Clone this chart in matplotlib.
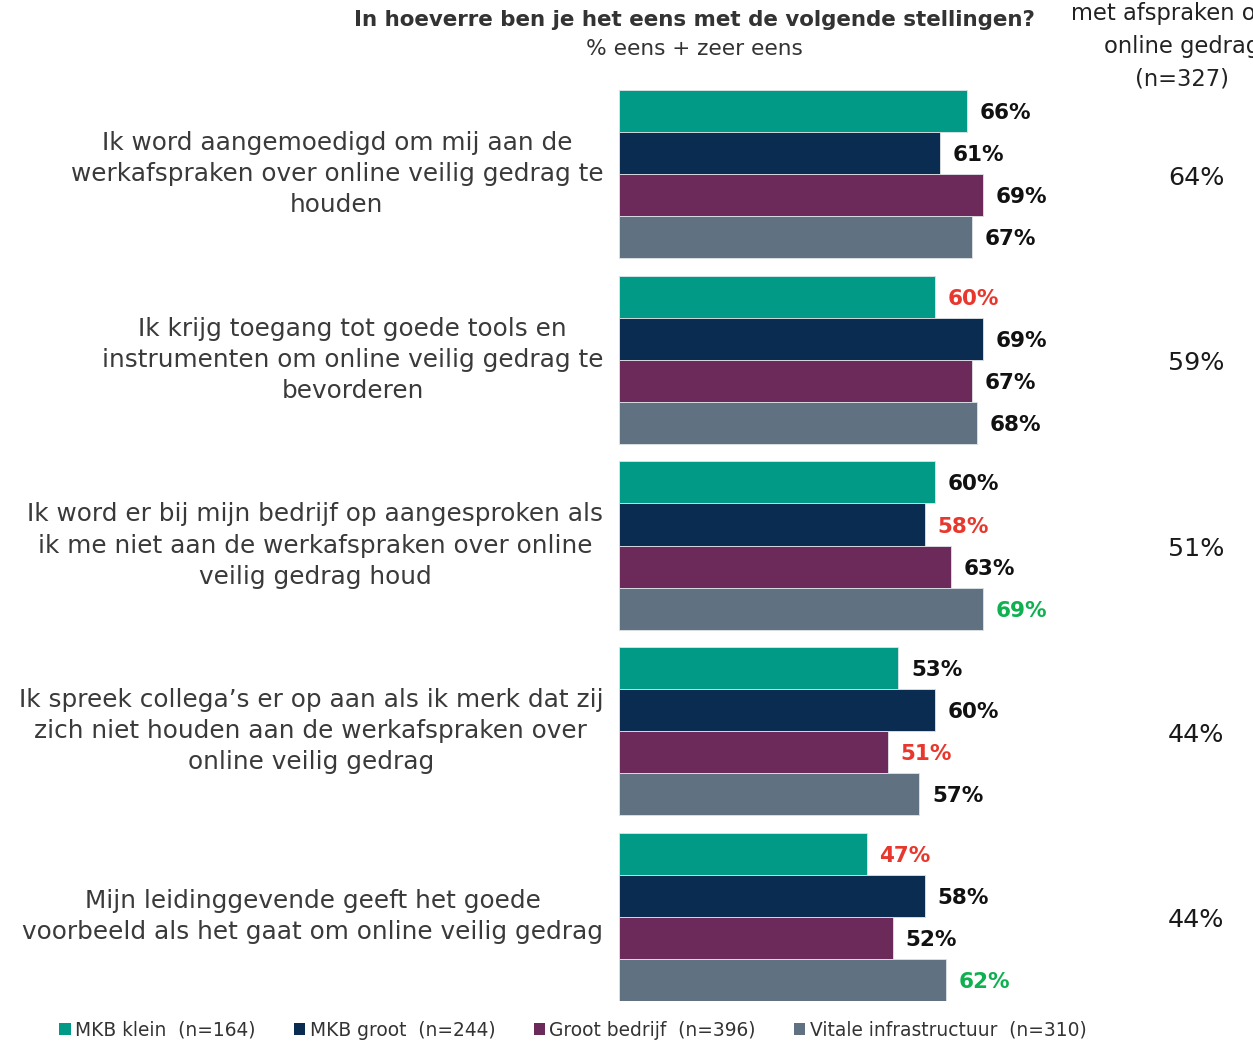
import numpy as np
import matplotlib
matplotlib.use("Agg")
import matplotlib.pyplot as plt
from matplotlib.patches import Patch

# statements (left labels)
statements = [
    "Ik word aangemoedigd om mij aan de\nwerkafspraken over online veilig gedrag te\nhouden",
    "Ik krijg toegang tot goede tools en\ninstrumenten om online veilig gedrag te\nbevorderen",
    "Ik word er bij mijn bedrijf op aangesproken als\nik me niet aan de werkafspraken over online\nveilig gedrag houd",
    "Ik spreek collega\u2019s er op aan als ik merk dat zij\nzich niet houden aan de werkafspraken over\nonline veilig gedrag",
    "Mijn leidinggevende geeft het goede\nvoorbeeld als het gaat om online veilig gedrag",
]

segments = ["MKB klein  (n=164)", "MKB groot  (n=244)",
            "Groot bedrijf  (n=396)", "Vitale infrastructuur  (n=310)"]
seg_colors = ["#009A87", "#0A2C50", "#6C2A5A", "#607282"]

# % eens + zeer eens per statement, per segment
mkb_klein = [66, 60, 60, 53, 47]
mkb_groot = [61, 69, 58, 60, 58]
groot_bedrijf = [69, 67, 63, 51, 52]
vitaal = [67, 68, 69, 57, 62]

# reference column (n=327)
reference = [64, 59, 51, 44, 44]

# label colour: lowest red, highest green, rest black
label_flags = [
    ["", "", "", ""],
    ["low", "", "", ""],
    ["", "low", "", "high"],
    ["", "", "low", ""],
    ["low", "", "", "high"],
]
flag_colors = {"": "#111111", "low": "#E8372C", "high": "#10B050"}

values = np.array([mkb_klein, mkb_groot, groot_bedrijf, vitaal]).T

W, H = 1253, 1041
fig = plt.figure(figsize=(W / 100, H / 100), dpi=100)
ax = fig.add_axes([619 / W, (H - 1001) / H, 527 / W, (1001 - 90) / H])

pitch = 4.41
n_groups = len(statements)
ax.set_xlim(0, 100)
ax.set_ylim((n_groups - 1) * pitch + 4, 0)
ax.axis("off")

for g in range(n_groups):
    for j in range(4):
        y = g * pitch + j + 0.5
        v = values[g, j]
        ax.barh(y, v, height=1.0, color=seg_colors[j], edgecolor="#dfe4e8",
                linewidth=0.6)
        ax.text(v + 2.4, y + 0.05, f"{v}%", va="center", ha="left", fontsize=15.5,
                fontweight="bold", color=flag_colors[label_flags[g][j]])
    ax.text(-3.0, g * pitch + 2, statements[g], ha="right", va="center",
            multialignment="center", fontsize=17.8, color="#3a3a3a",
            linespacing=1.38)
    # reference column value, at the group's vertical center
    yd = ax.transData.transform((0, g * pitch + 2.08))[1]
    fig.text(1196 / W, yd / H, f"{reference[g]}%", fontsize=18.3,
             color="#1a1a1a", ha="center", va="center")

fig.text(694 / W, 1 - 20 / H, "In hoeverre ben je het eens met de volgende stellingen?",
         ha="center", va="center", fontsize=15.4, fontweight="bold", color="#333333")
fig.text(694 / W, 1 - 49 / H, "% eens + zeer eens", ha="center", va="center",
         fontsize=15.6, color="#333333")
fig.text(1182 / W, 1 - 46 / H, "met afspraken over\nonline gedrag\n(n=327)",
         ha="center", va="center", fontsize=16.3, color="#222222", linespacing=1.55)

handles = [Patch(facecolor=c, edgecolor="none") for c in seg_colors]
fig.legend(handles, segments, loc="center", bbox_to_anchor=(573 / W, 1 - 1030 / H),
           ncol=4, frameon=False, fontsize=13.4, handlelength=0.6, handleheight=0.6,
           handletextpad=0.25, columnspacing=2.05, labelcolor="#333333")

fig.savefig("out.png", dpi=100, facecolor="white")
